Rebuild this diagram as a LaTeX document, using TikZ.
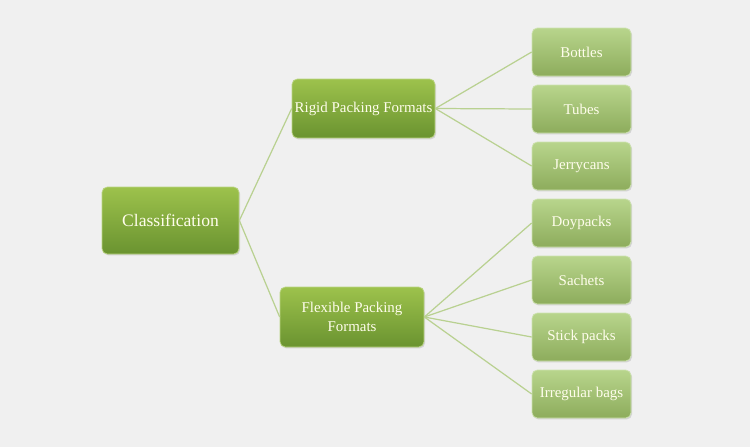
\documentclass[tikz,border=0pt]{standalone}
\usepackage{fontspec}
\setmainfont{Liberation Serif}
\usetikzlibrary{shadows}

\definecolor{bgc}{HTML}{F0F0F0}
\definecolor{maintop}{HTML}{9DC24C}
\definecolor{mainbot}{HTML}{6A9330}
\definecolor{leaftop}{HTML}{B8D58C}
\definecolor{leafbot}{HTML}{8DAC5C}
\definecolor{linkc}{HTML}{B9D191}
\definecolor{labelc}{HTML}{FFFDEC}

\begin{document}
\begin{tikzpicture}[x=0.02cm, y=-0.02cm,
    mainbox/.style={rounded corners=3pt, top color=maintop, bottom color=mainbot,
      draw=maintop!70!white, line width=0.4pt, text=labelc, align=center,
      drop shadow={shadow xshift=0.6pt, shadow yshift=-0.8pt, opacity=0.25},
      inner sep=0pt, font=\fontsize{8.5}{10.5}\selectfont},
    leafbox/.style={rounded corners=3pt, top color=leaftop, bottom color=leafbot,
      draw=leaftop!70!white, line width=0.4pt, text=labelc, align=center,
      drop shadow={shadow xshift=0.6pt, shadow yshift=-0.8pt, opacity=0.25},
      minimum width=1.98cm, minimum height=0.96cm, inner sep=0pt,
      font=\fontsize{8.5}{10}\selectfont},
    link/.style={draw=linkc, line width=0.7pt}]

    \fill[bgc] (0,0) rectangle (750,447);
    \useasboundingbox (0,0) rectangle (750,447);

    \node[mainbox, minimum width=2.74cm, minimum height=1.34cm,
      font=\fontsize{10}{12}\selectfont] (cls) at (170.5,220.5) {Classification};
    \node[mainbox, minimum width=2.86cm, minimum height=1.18cm] (rigid) at (363.5,108.5) {Rigid Packing Formats};
    \node[mainbox, minimum width=2.88cm, minimum height=1.2cm] (flex) at (352,317) {Flexible Packing\\Formats};

    \node[leafbox] (bottles) at (581.5,52) {Bottles};
    \node[leafbox] (tubes) at (581.5,109) {Tubes};
    \node[leafbox] (jerry) at (581.5,166) {Jerrycans};
    \node[leafbox] (doy) at (581.5,223) {Doypacks};
    \node[leafbox] (sachets) at (581.5,280) {Sachets};
    \node[leafbox] (stick) at (581.5,337) {Stick packs};
    \node[leafbox] (bags) at (581.5,394) {Irregular bags};

    \draw[link] (cls.east) to (rigid.west);
    \draw[link] (cls.east) to (flex.west);
    \foreach \leaf in {bottles,tubes,jerry}
      \draw[link] (rigid.east) to (\leaf.west);
    \foreach \leaf in {doy,sachets,stick,bags}
      \draw[link] (flex.east) to (\leaf.west);

\end{tikzpicture}
\end{document}
